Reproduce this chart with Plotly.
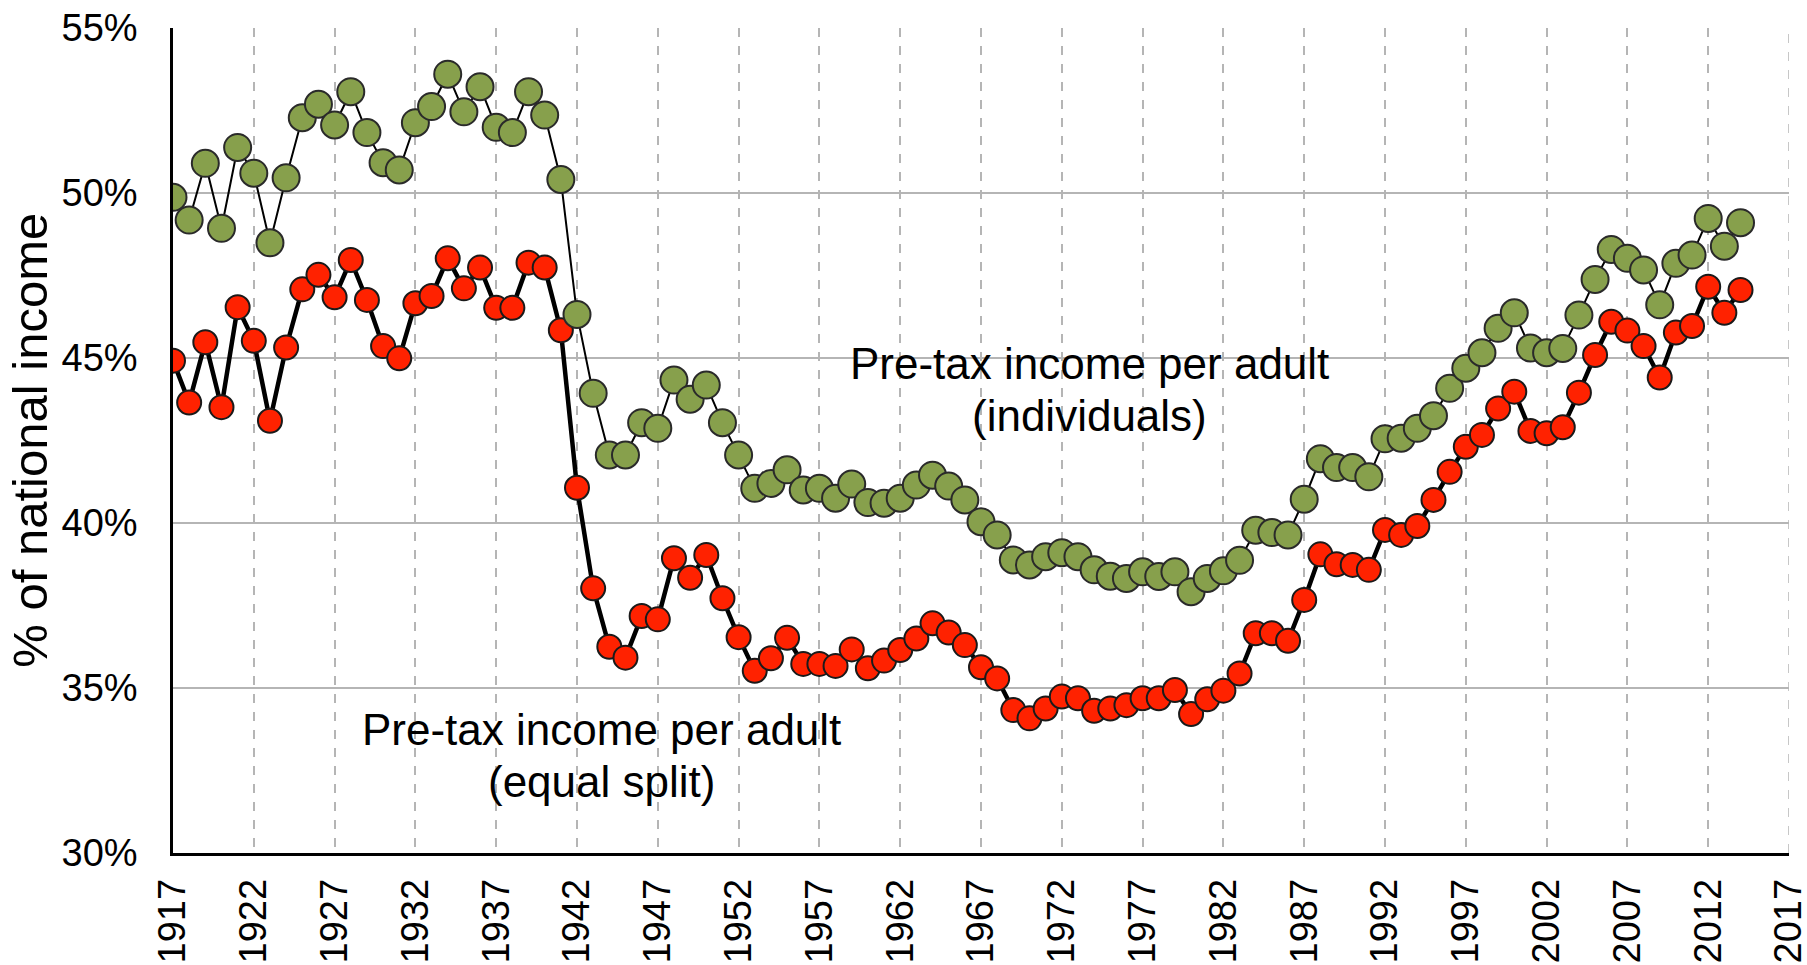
import plotly.graph_objects as go

years = list(range(1917, 2015))

individuals = [
    49.87, 49.18, 50.90, 48.93, 51.38, 50.60, 48.49, 50.46, 52.28, 52.69,
    52.06, 53.07, 51.83, 50.92, 50.70, 52.13, 52.62, 53.60, 52.46, 53.22,
    51.99, 51.83, 53.07, 52.36, 50.41, 46.32, 43.93, 42.06, 42.06, 43.04,
    42.87, 44.33, 43.75, 44.18, 43.04, 42.06, 41.05, 41.20, 41.61, 41.00,
    41.05, 40.75, 41.18, 40.62, 40.60, 40.75, 41.15, 41.45, 41.12, 40.70,
    40.04, 39.64, 38.88, 38.73, 38.98, 39.10, 38.98, 38.58, 38.39, 38.32,
    38.52, 38.38, 38.52, 37.92, 38.32, 38.55, 38.87, 39.78, 39.71, 39.64,
    40.72, 41.95, 41.68, 41.68, 41.40, 42.55, 42.57, 42.87, 43.25, 44.08,
    44.69, 45.16, 45.90, 46.37, 45.30, 45.16, 45.29, 46.30, 47.38, 48.29,
    48.02, 47.67, 46.61, 47.87, 48.12, 49.23, 48.39, 49.10,
]

equal_split = [
    44.92, 43.65, 45.48, 43.51, 46.54, 45.52, 43.10, 45.32, 47.08, 47.52,
    46.84, 47.97, 46.76, 45.36, 44.99, 46.66, 46.88, 48.02, 47.11, 47.74,
    46.52, 46.52, 47.89, 47.74, 45.84, 41.07, 38.02, 36.25, 35.92, 37.18,
    37.08, 38.93, 38.34, 39.03, 37.72, 36.54, 35.52, 35.90, 36.52, 35.73,
    35.73, 35.67, 36.17, 35.60, 35.83, 36.15, 36.50, 36.96, 36.68, 36.30,
    35.63, 35.29, 34.33, 34.08, 34.38, 34.74, 34.69, 34.31, 34.38, 34.48,
    34.69, 34.69, 34.94, 34.21, 34.66, 34.92, 35.44, 36.66, 36.66, 36.43,
    37.67, 39.05, 38.75, 38.73, 38.58, 39.79, 39.64, 39.91, 40.70, 41.55,
    42.31, 42.67, 43.47, 43.98, 42.79, 42.72, 42.90, 43.95, 45.09, 46.10,
    45.83, 45.36, 44.41, 45.77, 45.97, 47.16, 46.37, 47.06,
]

x_ticks = list(range(1917, 2018, 5))
y_ticks = [30, 35, 40, 45, 50, 55]

label_individuals = ["Pre-tax income per adult", "(individuals)"]
label_equal = ["Pre-tax income per adult", "(equal split)"]

FONT = "Liberation Sans, Arial, sans-serif"
GRID = "#b5b5b5"

fig = go.Figure()

fig.add_trace(go.Scatter(
    x=years, y=equal_split, mode="lines+markers", name="equal split",
    line=dict(color="black", width=4.5),
    marker=dict(size=24, color="#FF2200", line=dict(color="#1a1a1a", width=2)),
))
fig.add_trace(go.Scatter(
    x=years, y=individuals, mode="lines+markers", name="individuals",
    line=dict(color="black", width=2),
    marker=dict(size=27, color="#87A04C", line=dict(color="#2a2a2a", width=2)),
))

# dashed gridline at the right end of the x range (plotly omits the edge one)
fig.add_shape(type="line", xref="x", yref="paper",
              x0=x_ticks[-1], x1=x_ticks[-1], y0=0, y1=1, layer="below",
              line=dict(color=GRID, width=1.5, dash="dash"))

annotations = []
for txt, yv in zip(label_individuals, [44.82, 43.27]):
    annotations.append(dict(x=1973.7, y=yv, xref="x", yref="y", text=txt,
                            showarrow=False, xanchor="center", yanchor="middle",
                            font=dict(family=FONT, size=44, color="black")))
for txt, yv in zip(label_equal, [33.73, 32.18]):
    annotations.append(dict(x=1943.5, y=yv, xref="x", yref="y", text=txt,
                            showarrow=False, xanchor="center", yanchor="middle",
                            font=dict(family=FONT, size=44, color="black")))
annotations.append(dict(x=-0.089, y=0.5, xref="paper", yref="paper",
                        text="% of national income", textangle=-90,
                        showarrow=False, xanchor="center", yanchor="middle",
                        font=dict(family=FONT, size=49, color="black")))

fig.update_layout(
    width=1807, height=965,
    margin=dict(l=173, r=18, t=28, b=112, autoexpand=False),
    paper_bgcolor="white", plot_bgcolor="white",
    showlegend=False,
    font=dict(family=FONT, color="black"),
    annotations=annotations,
    xaxis=dict(
        range=[1917, 2017], tickmode="array", tickvals=x_ticks,
        ticktext=[str(v) for v in x_ticks], tickangle=-90,
        tickfont=dict(size=38, family=FONT, color="black"),
        showgrid=True, gridcolor=GRID, gridwidth=1.5, griddash="dash",
        showline=True, linecolor="black", linewidth=2.5,
        ticks="", ticklabelstandoff=8, zeroline=False, automargin=False,
        ticklabeloverflow="allow",
    ),
    yaxis=dict(
        range=[30, 55], tickmode="array", tickvals=y_ticks,
        ticktext=[f"{v}%" for v in y_ticks],
        tickfont=dict(size=38, family=FONT, color="black"),
        showgrid=True, gridcolor=GRID, gridwidth=2,
        showline=True, linecolor="black", linewidth=2.5,
        ticks="", ticklabelstandoff=25, zeroline=False, automargin=False,
        ticklabeloverflow="allow",
    ),
)

fig.write_html(
    "out.html",
    config={"displayModeBar": False},
    post_script="document.body.style.margin='0';document.body.style.overflow='hidden';",
)
